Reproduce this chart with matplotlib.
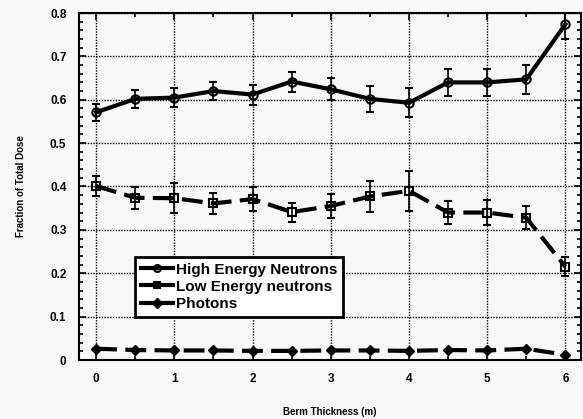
import numpy as np
import matplotlib.pyplot as plt
from matplotlib.ticker import MultipleLocator
from matplotlib.lines import Line2D

# Data
berm = [0, 0.5, 1, 1.5, 2, 2.5, 3, 3.5, 4, 4.5, 5, 5.5, 6]

high_e = [0.571, 0.602, 0.605, 0.620, 0.612, 0.642, 0.624, 0.602, 0.593, 0.640, 0.640, 0.647, 0.774]
high_err = [0.020, 0.020, 0.022, 0.020, 0.023, 0.023, 0.025, 0.030, 0.033, 0.031, 0.032, 0.034, 0.035]

low_e = [0.401, 0.374, 0.373, 0.361, 0.371, 0.341, 0.355, 0.377, 0.390, 0.340, 0.340, 0.328, 0.215]
low_err = [0.023, 0.025, 0.034, 0.025, 0.027, 0.022, 0.027, 0.035, 0.046, 0.026, 0.029, 0.026, 0.022]

photons = [0.026, 0.023, 0.022, 0.022, 0.021, 0.021, 0.022, 0.022, 0.021, 0.023, 0.022, 0.026, 0.012]
photon_err = [0.003, 0.003, 0.003, 0.003, 0.003, 0.003, 0.003, 0.003, 0.003, 0.003, 0.003, 0.003, 0.003]

labels = ['High Energy Neutrons', 'Low Energy neutrons', 'Photons']

plt.rcParams['font.family'] = ['Liberation Sans', 'DejaVu Sans']
plt.rcParams['font.weight'] = 'bold'

bg = '#f8f8f8'
dash = (0, (5, 2))
fig = plt.figure(figsize=(5.83, 4.19), dpi=100, facecolor=bg)
ax = fig.add_axes([79 / 583, 1 - 360 / 419, 502 / 583, 347 / 419])
ax.set_facecolor(bg)

ax.errorbar(berm, high_e, yerr=high_err, color='black', lw=3, ls='-',
            marker='o', markersize=6, markerfacecolor='none', markeredgewidth=1.5,
            ecolor='black', elinewidth=1.2, capsize=3, capthick=1.2, zorder=3)
ax.errorbar(berm, low_e, yerr=low_err, color='black', lw=3, ls=dash,
            marker='s', markersize=6, markerfacecolor='none', markeredgewidth=1.5,
            ecolor='black', elinewidth=1.2, capsize=3, capthick=1.2, zorder=3)
ax.errorbar(berm, photons, yerr=photon_err, color='black', lw=3, ls=dash,
            marker='D', markersize=5, markerfacecolor='black',
            ecolor='black', elinewidth=1.0, capsize=1.5, capthick=1.0, zorder=3)

ax.set_xlim(-0.22, 6.2)
ax.set_ylim(0, 0.8)
ax.xaxis.set_major_locator(MultipleLocator(1))
ax.xaxis.set_minor_locator(MultipleLocator(0.5))
ax.yaxis.set_minor_locator(MultipleLocator(0.02))
ax.set_yticks(np.arange(0, 0.81, 0.1))
ax.set_yticklabels(['0', '0.1', '0.2', '0.3', '0.4', '0.5', '0.6', '0.7', '0.8'])

ax.grid(True, which='major', color='black', ls=(0, (1, 1)), lw=1.0)
ax.tick_params(which='both', direction='in', top=True, right=True,
               labelsize=8.5, width=1.2, color='black')
ax.tick_params(which='major', length=5, pad=9)
ax.tick_params(which='minor', length=3)
for lab in ax.get_xticklabels() + ax.get_yticklabels():
    lab.set_fontweight('bold')
for s in ax.spines.values():
    s.set_linewidth(1.5)

ax.set_xlabel('Berm Thickness (m)', fontsize=7, fontweight='bold', labelpad=16)
ax.set_ylabel('Fraction of Total Dose', fontsize=7, fontweight='bold', labelpad=17)

handles = [
    Line2D([], [], color='black', lw=3, ls='-', marker='o', markersize=5,
           markerfacecolor='none', markeredgewidth=1.5),
    Line2D([], [], color='black', lw=3, ls='-', marker='s', markersize=5,
           markerfacecolor='none', markeredgewidth=1.5),
    Line2D([], [], color='black', lw=3, ls='-', marker='D', markersize=5,
           markerfacecolor='black'),
]
leg = ax.legend(handles, labels, loc='lower left', bbox_to_anchor=(0.112, 0.124),
                fancybox=False, framealpha=1, edgecolor='black', facecolor='white',
                prop={'size': 11, 'weight': 'bold'}, handlelength=2.1,
                handletextpad=0.15, borderpad=0.4, labelspacing=0.2,
                borderaxespad=0)
leg.get_frame().set_linewidth(2)

fig.savefig('out.png', dpi=100, facecolor=bg)
